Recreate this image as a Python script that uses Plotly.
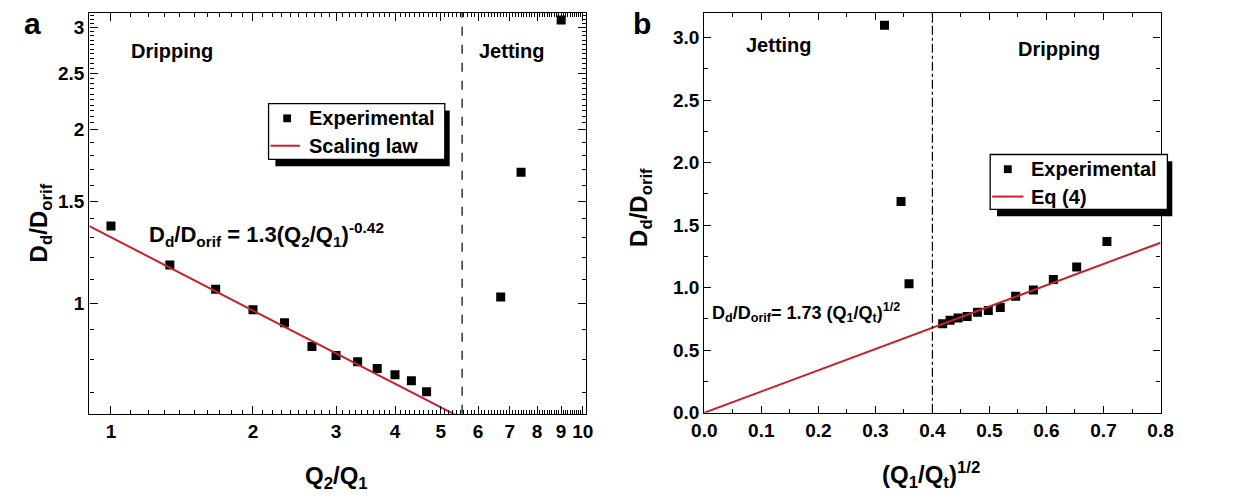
import numpy as np
import plotly.graph_objects as go

# ---------------- Panel a data (Q2/Q1 vs Dd/Dorif, log-log) ----------------
drip_ratio = [1.0, 1.333, 1.667, 2.0, 2.333, 2.667, 3.0, 3.333, 3.667, 4.0, 4.333, 4.667]
drip_d = [1.36, 1.164, 1.057, 0.974, 0.925, 0.842, 0.812, 0.792, 0.771, 0.752, 0.734, 0.703]
jet_ratio = [6.7, 7.4, 9.0]
jet_d = [1.025, 1.685, 3.09]
law_x = [0.9, 5.6]
law_y = [1.359, 0.630]
boundary_a = 5.55
a_xticks = [1, 2, 3, 4, 5, 6, 7, 8, 9, 10]
a_yticks = [1, 1.5, 2, 2.5, 3]

# ---------------- Panel b data ((Q1/Qt)^1/2 vs Dd/Dorif) ----------------
drip_sqrt = [0.706, 0.653, 0.612, 0.577, 0.546, 0.519, 0.498, 0.479, 0.461, 0.445, 0.431, 0.418]
drip_d_b = [1.369, 1.166, 1.065, 0.982, 0.932, 0.842, 0.818, 0.803, 0.769, 0.758, 0.740, 0.712]
jet_sqrt = [0.316, 0.345, 0.359]
jet_d_b = [3.10, 1.69, 1.031]
eq_x = [0.0, 0.8]
eq_y = [0.0, 1.36]
boundary_b = 0.4

legend_a = ["Experimental", "Scaling law"]
legend_b = ["Experimental", "Eq (4)"]

W, H = 1246, 500
RED = "#c8202a"
FONT = "Liberation Sans, Arial, sans-serif"


def px(x, y):
    return x / W, 1 - y / H


fig = go.Figure()

fig.add_trace(go.Scatter(x=drip_ratio + jet_ratio, y=drip_d + jet_d, mode="markers",
                         marker=dict(symbol="square", size=9, color="black"),
                         name=legend_a[0], xaxis="x", yaxis="y"))
fig.add_trace(go.Scatter(x=law_x, y=law_y, mode="lines", line=dict(color=RED, width=2),
                         name=legend_a[1], xaxis="x", yaxis="y"))
fig.add_trace(go.Scatter(x=drip_sqrt + jet_sqrt, y=drip_d_b + jet_d_b, mode="markers",
                         marker=dict(symbol="square", size=9, color="black"),
                         name=legend_b[0], xaxis="x2", yaxis="y2"))
fig.add_trace(go.Scatter(x=eq_x, y=eq_y, mode="lines", line=dict(color=RED, width=2),
                         name=legend_b[1], xaxis="x2", yaxis="y2"))

tickfont = dict(family=FONT, size=19, color="black", weight="bold")
common = dict(showgrid=False, zeroline=False, showline=True, linecolor="black", linewidth=1.3,
              mirror="allticks", ticks="inside", tickcolor="black", tickwidth=1.3,
              tickfont=tickfont)

a_xminor = [0.9] + [round(i * 0.1, 1) for i in range(11, 100) if i % 10 != 0]
a_yminor = [0.7, 0.8, 0.9, 1.1, 1.2, 1.3, 1.4, 1.6, 1.7, 1.8, 1.9] + \
           [round(i * 0.05, 2) for i in range(41, 64) if i % 10 != 0]

fig.update_layout(
    width=W, height=H, margin=dict(l=0, r=0, t=0, b=0),
    paper_bgcolor="white", plot_bgcolor="white", showlegend=False,
    xaxis=dict(domain=[78 / W, 585 / W], type="log", range=[np.log10(0.9), np.log10(10.15)],
               tickmode="array", tickvals=a_xticks, ticktext=[str(v) for v in a_xticks],
               ticklen=8,
               minor=dict(tickmode="array", tickvals=a_xminor, ticks="inside", ticklen=4,
                          tickcolor="black", tickwidth=1), anchor="y", **common),
    yaxis=dict(domain=[1 - 423 / H, 1 - 13 / H], type="log", range=[np.log10(0.644), np.log10(3.18)],
               tickmode="array", tickvals=a_yticks, ticktext=["1", "1.5", "2", "2.5", "3"],
               ticklen=8,
               minor=dict(tickmode="array", tickvals=a_yminor, ticks="inside", ticklen=4,
                          tickcolor="black", tickwidth=1), anchor="x", **common),
    xaxis2=dict(domain=[706 / W, 1172 / W], range=[0, 0.8], tickmode="linear", tick0=0, dtick=0.1,
                tickformat=".1f", ticklen=7,
                minor=dict(dtick=0.05, ticks="inside", ticklen=4, tickcolor="black", tickwidth=1.1),
                anchor="y2", **common),
    yaxis2=dict(domain=[1 - 422 / H, 1 - 13 / H], range=[0, 3.2], tickmode="linear", tick0=0, dtick=0.5,
                tickformat=".1f", ticklen=7,
                minor=dict(dtick=0.25, ticks="inside", ticklen=4, tickcolor="black", tickwidth=1.1),
                anchor="x2", **common),
)

fig.add_shape(type="line", xref="x", yref="y domain", x0=boundary_a, x1=boundary_a, y0=0, y1=1,
              line=dict(color="black", width=1.2, dash="dash"))
fig.add_shape(type="line", xref="x2", yref="y2 domain", x0=boundary_b, x1=boundary_b, y0=0, y1=1,
              line=dict(color="black", width=1.2, dash="dashdot"))


def rect(x0, y0, x1, y1, fill, line_w=0):
    a0 = px(x0, y1)
    a1 = px(x1, y0)
    fig.add_shape(type="rect", xref="paper", yref="paper", x0=a0[0], y0=a0[1], x1=a1[0], y1=a1[1],
                  fillcolor=fill, line=dict(width=line_w, color="black"), layer="above")


def seg(x0, y0, x1, y1, color, w):
    a0 = px(x0, y0)
    a1 = px(x1, y1)
    fig.add_shape(type="line", xref="paper", yref="paper", x0=a0[0], y0=a0[1], x1=a1[0], y1=a1[1],
                  line=dict(width=w, color=color), layer="above")


def note(text, x, y, size=20, angle=0, xanchor="center"):
    xx, yy = px(x, y)
    fig.add_annotation(text=text, x=xx, y=yy, xref="paper", yref="paper", showarrow=False,
                       xanchor=xanchor, yanchor="middle", textangle=angle,
                       font=dict(family=FONT, size=size, color="black", weight="bold"))


def legend_box(x0, y0, x1, y1, labels, row_y, mark_x, line_x0, line_x1, text_x):
    rect(x0 + 7, y0 + 7, x1 + 5, y1 + 7, "black")         # shadow
    rect(x0, y0, x1, y1, "white", line_w=1.3)             # box
    rect(mark_x - 4, row_y[0] - 4, mark_x + 4, row_y[0] + 4, "black")  # marker glyph
    seg(line_x0, row_y[1], line_x1, row_y[1], RED, 2)     # line glyph
    for lab, ry in zip(labels, row_y):
        note(lab, text_x, ry, size=20, xanchor="left")


legend_box(261, 106, 441, 163, legend_a, [121, 149], 280, 263, 293, 300)
legend_box(998, 158, 1179, 214, legend_b, [173, 201], 1016, 1000, 1032, 1038)

note("a", 20, 24, size=30)
note("b", 642, 24, size=30)
note("Dripping", 162, 52)
note("Jetting", 510, 52)
note("Jetting", 782, 46)
note("Dripping", 1068, 50)
note("D<sub>d</sub>/D<sub>orif</sub> = 1.3(Q<sub>2</sub>/Q<sub>1</sub>)<sup>-0.42</sup>", 137, 240,
     size=22, xanchor="left")
note("D<sub>d</sub>/D<sub>orif</sub>= 1.73 (Q<sub>1</sub>/Q<sub>t</sub>)<sup>1/2</sup>", 712, 320,
     size=18, xanchor="left")
note("Q<sub>2</sub>/Q<sub>1</sub>", 330, 488, size=24)
note("(Q<sub>1</sub>/Q<sub>t</sub>)<sup>1/2</sup>", 938, 486, size=24)
note("D<sub>d</sub>/D<sub>orif</sub>", 29, 228, size=24, angle=-90)
note("D<sub>d</sub>/D<sub>orif</sub>", 641, 212, size=24, angle=-90)

fig.write_html("out.html")
